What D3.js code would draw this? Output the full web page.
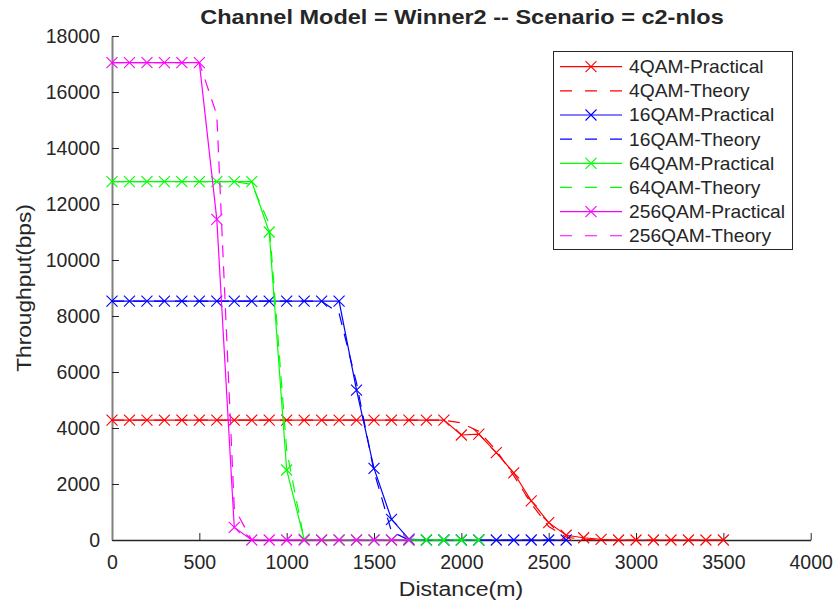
<!DOCTYPE html>
<html lang="en">
<head>
<meta charset="utf-8">
<title>Channel Model = Winner2 -- Scenario = c2-nlos</title>
<script src="https://d3js.org/d3.v7.min.js"></script>
<style>
  body { margin: 0; background: #fff; }
  text { font-family: "Liberation Sans", Arial, sans-serif; fill: #262626; }
</style>
</head>
<body>
<svg id="chart"></svg>
<script>
// distances (m) where each curve was sampled
const distance = [0, 100, 200, 300, 400, 500, 600, 700, 800, 900, 1000, 1100, 1200, 1300, 1400, 1500, 1600, 1700,
  1800, 1900, 2000, 2100, 2200, 2300, 2400, 2500, 2600, 2700, 2800, 2900, 3000, 3100, 3200, 3300, 3400, 3500];

// throughput (bps), one value per distance, each curve stops where its array stops
const qam4Practical = [4280, 4280, 4280, 4280, 4280, 4280, 4280, 4280, 4280, 4280, 4280, 4280, 4280, 4280, 4280, 4280, 4280, 4280,
  4280, 4280, 3750, 3780, 3120, 2400, 1400, 620, 170, 80, 20, 0, 0, 0, 0, 0, 0, 0];
const qam4Theory = [4280, 4280, 4280, 4280, 4280, 4280, 4280, 4280, 4280, 4280, 4280, 4280, 4280, 4280, 4280, 4280, 4280, 4280,
  4280, 4280, 4180, 3880, 3200, 2300, 1300, 480, 100, 20, 0, 0, 0, 0, 0, 0, 0, 0];
const qam16Practical = [8530, 8530, 8530, 8530, 8530, 8530, 8530, 8530, 8530, 8530, 8530, 8530, 8530, 8530, 5350, 2560, 740, 30,
  0, 0, 0, 0, 0, 0, 0, 0, 0];
const qam16Theory = [8530, 8530, 8530, 8530, 8530, 8530, 8530, 8530, 8530, 8530, 8530, 8530, 8530, 8100, 5600, 2450, 300, 0,
  0, 0, 0, 0, 0, 0, 0, 0, 0];
const qam64Practical = [12800, 12800, 12800, 12800, 12800, 12800, 12800, 12800, 12800, 11000, 2500, 30, 0, 0, 0, 0, 0, 0,
  0, 0, 0, 0];
const qam64Theory = [12800, 12800, 12800, 12800, 12800, 12800, 12800, 12800, 12700, 11300, 3200, 0, 0, 0, 0, 0, 0, 0,
  0, 0, 0, 0];
const qam256Practical = [17050, 17050, 17050, 17050, 17050, 17050, 11450, 450, 0, 0, 0, 0, 0, 0, 0, 0, 0, 0];
const qam256Theory = [17050, 17050, 17050, 17050, 17050, 17050, 15180, 1140, 0, 0, 0, 0, 0, 0, 0, 0, 0, 0];

const yTicks = [0, 2000, 4000, 6000, 8000, 10000, 12000, 14000, 16000, 18000];
const xTicks = [0, 500, 1000, 1500, 2000, 2500, 3000, 3500, 4000];

const series = [
  {name: "4QAM-Practical", color: "#ff0000", dashed: false, values: qam4Practical},
  {name: "4QAM-Theory", color: "#ff0000", dashed: true, values: qam4Theory},
  {name: "16QAM-Practical", color: "#0000ff", dashed: false, values: qam16Practical},
  {name: "16QAM-Theory", color: "#0000ff", dashed: true, values: qam16Theory},
  {name: "64QAM-Practical", color: "#00ff00", dashed: false, values: qam64Practical},
  {name: "64QAM-Theory", color: "#00ff00", dashed: true, values: qam64Theory},
  {name: "256QAM-Practical", color: "#ff00ff", dashed: false, values: qam256Practical},
  {name: "256QAM-Theory", color: "#ff00ff", dashed: true, values: qam256Theory}
];

const width = 835, height = 602;
const svg = d3.select("#chart").attr("width", width).attr("height", height);

const x = d3.scaleLinear().domain([0, 4000]).range([112, 810.7]);
const y = d3.scaleLinear().domain([0, 18000]).range([540, 36]);

// axes (MATLAB style, ticks inside, no box)
const xAxis = svg.append("g")
  .attr("transform", "translate(0,540)")
  .call(d3.axisBottom(x).tickValues(xTicks).tickFormat(d3.format("d")).tickSizeInner(-7).tickSizeOuter(0).tickPadding(15));
xAxis.select(".domain").attr("stroke", "#262626").attr("stroke-width", 1.3);
xAxis.selectAll(".tick line").attr("stroke", "#262626");
xAxis.selectAll("text").style("font-size", "19.5px").attr("fill", "#262626");

const yAxis = svg.append("g")
  .attr("transform", "translate(112,0)")
  .call(d3.axisLeft(y).tickValues(yTicks).tickFormat(d3.format("d")).tickSizeInner(-7).tickSizeOuter(0).tickPadding(12));
yAxis.select(".domain").attr("stroke", "#808080").attr("stroke-width", 2);
yAxis.selectAll(".tick line").attr("stroke", "#262626");
yAxis.selectAll("text").style("font-size", "19.5px").attr("fill", "#262626");

svg.append("text")
  .attr("x", 461).attr("y", 596)
  .attr("text-anchor", "middle")
  .style("font-size", "21px")
  .attr("transform", "translate(461,0) scale(1.1,1) translate(-461,0)")
  .text("Distance(m)");

svg.append("text")
  .attr("transform", "translate(31,288) rotate(-90) scale(1.08,1)")
  .attr("text-anchor", "middle")
  .style("font-size", "21px")
  .text("Throughput(bps)");

svg.append("text")
  .attr("transform", "translate(462,24) scale(1.12,1)")
  .attr("text-anchor", "middle")
  .style("font-size", "21px")
  .style("font-weight", "bold")
  .attr("fill", "#000")
  .text("Channel Model = Winner2 -- Scenario = c2-nlos");

const line = d3.line()
  .x(d => x(d[0]))
  .y(d => y(d[1]));

const crossPath = "M-5.5,-5.5L5.5,5.5M-5.5,5.5L5.5,-5.5";

series.forEach(function(s) {
  const pts = s.values.map((v, i) => [distance[i], v]);
  const g = svg.append("g").attr("class", "series");
  g.append("path")
    .attr("d", line(pts))
    .attr("fill", "none")
    .attr("stroke", s.color)
    .attr("stroke-width", 1.2)
    .attr("stroke-dasharray", s.dashed ? "12,9" : null);
  if (!s.dashed) {
    g.selectAll("path.marker")
      .data(pts).enter().append("path")
      .attr("class", "marker")
      .attr("d", crossPath)
      .attr("transform", d => "translate(" + x(d[0]) + "," + y(d[1]) + ")")
      .attr("fill", "none")
      .attr("stroke", s.color)
      .attr("stroke-width", 1.1);
  }
});

// legend
const legend = svg.append("g").attr("id", "legend");
legend.append("rect")
  .attr("x", 553.5).attr("y", 51.5)
  .attr("width", 239).attr("height", 198)
  .attr("fill", "#fff")
  .attr("stroke", "#262626")
  .attr("stroke-width", 1);

const item = legend.selectAll("g.item")
  .data(series).enter().append("g")
  .attr("class", "item")
  .attr("transform", (d, i) => "translate(0," + (66.7 + i * 24.15) + ")");
item.append("line")
  .attr("x1", 560).attr("x2", 622)
  .attr("y1", 0).attr("y2", 0)
  .attr("stroke", d => d.color)
  .attr("stroke-width", 1.2)
  .attr("stroke-dasharray", d => d.dashed ? "12,13" : null);
item.filter(d => !d.dashed).append("path")
  .attr("d", crossPath)
  .attr("transform", "translate(591,0)")
  .attr("fill", "none")
  .attr("stroke", d => d.color)
  .attr("stroke-width", 1.1);
item.append("text")
  .attr("transform", "translate(629,0) scale(1.04,1)")
  .attr("dy", "0.35em")
  .style("font-size", "18.5px")
  .attr("fill", "#000")
  .text(d => d.name);
</script>
</body>
</html>
